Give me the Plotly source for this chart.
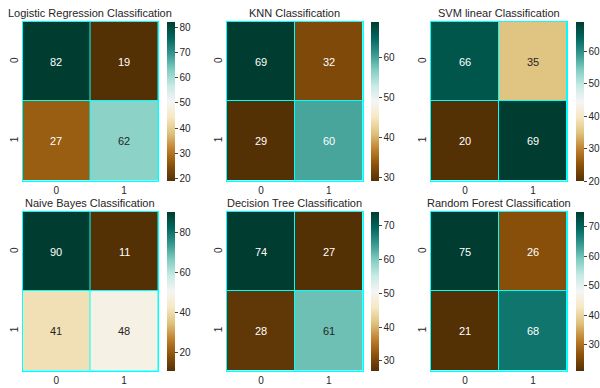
import plotly.graph_objects as go
from plotly.colors import sample_colorscale, unlabel_rgb
from plotly.colors import diverging

# Confusion matrices of six classifiers (rows: actual, cols: predicted)
titles = [
    "Logistic Regression Classification",
    "KNN Classification",
    "SVM linear Classification",
    "Naive Bayes Classification",
    "Decision Tree Classification",
    "Random Forest Classification",
]
cm_logreg = [[82, 19], [27, 62]]
cm_knn = [[69, 32], [29, 60]]
cm_svm = [[66, 35], [20, 69]]
cm_nb = [[90, 11], [41, 48]]
cm_tree = [[74, 27], [28, 61]]
cm_forest = [[75, 26], [21, 68]]
matrices = [cm_logreg, cm_knn, cm_svm, cm_nb, cm_tree, cm_forest]
class_labels = [0, 1]
cbar_steps = [10, 10, 10, 20, 10, 10]

W, H = 600, 388
SCALE = diverging.BrBG
TXT = "#262626"
FONT = "Liberation Sans, Arial, sans-serif"

# pixel boxes of the heatmap panels and their colour bars
col_left = [22.5, 227.0, 431.0]
col_right = [158.0, 362.7, 567.0]
cbar_left = [166.7, 371.0, 575.7]
row_top = [22.0, 212.0]
row_bottom = [180.5, 370.5]


def luminance(rgb):
    vals = []
    for c in rgb:
        c = c / 255.0
        vals.append(c / 12.92 if c <= 0.03928 else ((c + 0.055) / 1.055) ** 2.4)
    return 0.2126 * vals[0] + 0.7152 * vals[1] + 0.0722 * vals[2]


fig = go.Figure()
annotations = []
for k, (title, cm) in enumerate(zip(titles, matrices)):
    r, c = divmod(k, 3)
    ax = "" if k == 0 else str(k + 1)
    xa, ya = "x" + ax, "y" + ax
    zmin = min(min(row) for row in cm)
    zmax = max(max(row) for row in cm)
    fig.add_trace(go.Heatmap(
        z=cm, x=class_labels, y=class_labels,
        colorscale="BrBG", zmin=zmin, zmax=zmax,
        xgap=1, ygap=1, xaxis=xa, yaxis=ya, hoverinfo="z",
        colorbar=dict(
            x=cbar_left[c] / W, xanchor="left",
            y=1 - row_top[r] / H, yanchor="top",
            len=(row_bottom[r] - row_top[r]) / H, lenmode="fraction",
            thickness=8, thicknessmode="pixels",
            xpad=0, ypad=0, outlinewidth=0,
            ticks="outside", ticklen=3, tickwidth=1, tickcolor="#444",
            tick0=0, dtick=cbar_steps[k],
            tickfont=dict(size=10, color=TXT, family=FONT),
        ),
    ))
    dom_x = [col_left[c] / W, col_right[c] / W]
    dom_y = [1 - row_bottom[r] / H, 1 - row_top[r] / H]
    axis_common = dict(
        showgrid=False, zeroline=False, showline=True, linecolor="cyan",
        linewidth=1, mirror=True, ticks="", tickvals=class_labels,
        tickfont=dict(size=10, color=TXT, family=FONT),
        range=[-0.5, 1.5],
    )
    fig.layout["xaxis" + ax] = dict(domain=dom_x, anchor=ya, **axis_common)
    fig.layout["yaxis" + ax] = dict(domain=dom_y, anchor=xa,
                                    autorange=False, tickangle=-90,
                                    **{**axis_common, "range": [1.5, -0.5]})
    # cell value labels
    for i, row in enumerate(cm):
        for j, v in enumerate(row):
            t = (v - zmin) / (zmax - zmin)
            rgb = unlabel_rgb(sample_colorscale(SCALE, [t])[0])
            color = TXT if luminance(rgb) > 0.408 else "white"
            annotations.append(dict(
                x=class_labels[j], y=class_labels[i], xref=xa, yref=ya,
                text=str(v), showarrow=False,
                font=dict(size=11, color=color, family=FONT),
            ))
    annotations.append(dict(
        x=0.5, y=1, xref=xa + " domain", yref=ya + " domain",
        xanchor="center", yanchor="bottom", yshift=1,
        text=title, showarrow=False,
        font=dict(size=11, color=TXT, family=FONT),
    ))

fig.update_layout(
    width=W, height=H, margin=dict(l=0, r=0, t=0, b=0),
    paper_bgcolor="white", plot_bgcolor="cyan",
    annotations=annotations, showlegend=False,
    font=dict(family=FONT, color=TXT),
)
fig.write_html("out.html")
